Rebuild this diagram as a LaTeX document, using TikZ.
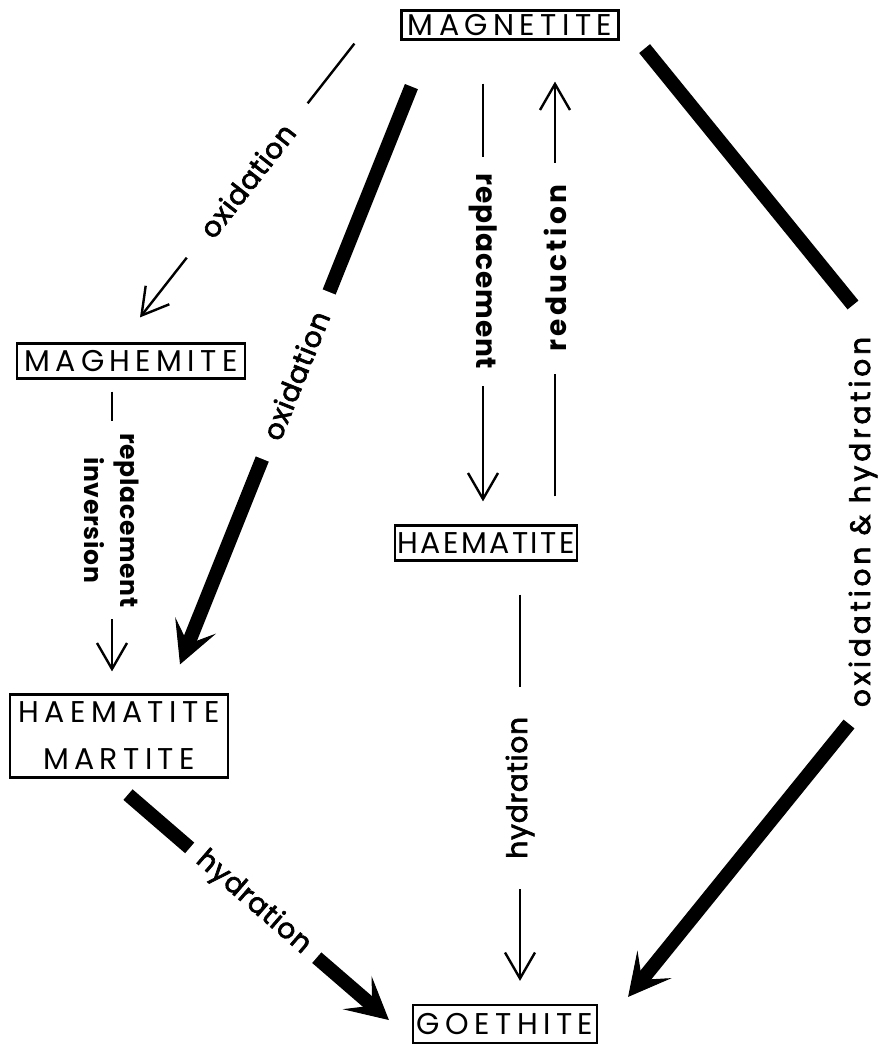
\documentclass[tikz,border=0pt]{standalone}
\usepackage{fontspec}
\setmainfont{Poppins}
\newfontfamily\boxfont[LetterSpace=18]{Poppins}
\newfontfamily\boxnarrow[LetterSpace=8]{Poppins}
\newfontfamily\lblfont[FakeBold=2.5,LetterSpace=3]{Poppins}
\newfontfamily\lblwide[FakeBold=2.5,LetterSpace=14]{Poppins}
\newfontfamily\lblbold[LetterSpace=3]{Poppins}
\newfontfamily\lblboldwide[LetterSpace=12]{Poppins}
\usetikzlibrary{arrows.meta}

\begin{document}
\begin{tikzpicture}[
    x=1pt, y=-1pt,
    box/.style={draw, line width=2.2pt, inner sep=0pt, align=center,
        font=\boxfont\fontsize{30}{47}\selectfont},
    lbl/.style={fill=white, inner xsep=22pt, inner ysep=1pt,
        font=\lblfont\fontsize{28}{34}\selectfont},
    lblb/.style={lbl, font=\lblbold\bfseries\fontsize{28}{34}\selectfont},
    thinarrow/.style={line width=2.4pt, -{Straight Barb[length=26pt,width=30pt]}},
    thickbar/.style={line width=14pt},
    thickarrow/.style={line width=14pt,
        -{Stealth[length=42pt,width=44pt,inset=20pt,line width=1pt]}}
]
    \useasboundingbox (0,0) rectangle (878,1046);

    % minerals
    \node[box, minimum width=217pt, minimum height=29pt] (magnetite) at (510,25) {MAGNETITE};
    \node[box, minimum width=228pt, minimum height=35pt] (maghemite) at (131,361) {MAGHEMITE};
    \node[box, minimum width=182pt, minimum height=35pt,
          font=\boxnarrow\fontsize{30}{47}\selectfont] (haematite) at (486,543) {HAEMATITE};
    \node[box, minimum width=218pt, minimum height=83pt] (martite) at (119,736) {HAEMATITE\\MARTITE};
    \node[box, minimum width=184pt, minimum height=38pt] (goethite) at (505,1024) {GOETHITE};

    % thin arrows
    \draw[thinarrow] ([xshift=-46pt,yshift=-3pt]magnetite.south west)
        -- node[lbl, sloped, inner xsep=30pt] {oxidation} ([xshift=9pt,yshift=25pt]maghemite.north);
    \draw[thinarrow] ([xshift=-27pt,yshift=-43pt]magnetite.south)
        -- node[lblb, pos=0.45, rotate=-90, inner xsep=17pt] {replacement} ([xshift=-3pt,yshift=23pt]haematite.north);
    \draw[thinarrow] ([xshift=69pt,yshift=28pt]haematite.north)
        -- node[lblb, pos=0.55, rotate=90, font=\lblboldwide\bfseries\fontsize{28}{34}\selectfont] {reduction}
        ([xshift=45pt,yshift=-41pt]magnetite.south);
    \draw[thinarrow] ([xshift=-19pt,yshift=-12pt]maghemite.south)
        -- node[lblb, pos=0.46, rotate=-90, inner xsep=12pt, align=center,
                font=\lblbold\bfseries\fontsize{25}{36}\selectfont] {replacement\\inversion}
        ([xshift=-7pt,yshift=22pt]martite.north);
    \draw[thinarrow] ([xshift=34pt,yshift=-33pt]haematite.south)
        -- node[lbl, rotate=90, inner xsep=30pt] {hydration} ([xshift=15pt,yshift=23pt]goethite.north);

    % thick arrows
    \draw[thickarrow] ([xshift=11pt,yshift=-46pt]magnetite.south west)
        -- node[lbl, sloped] {oxidation} ([xshift=61pt,yshift=29pt]martite.north);
    \draw[thickarrow] ([xshift=9pt,yshift=-16pt]martite.south)
        -- node[lbl, sloped, pos=0.48, inner xsep=13pt] {hydration} ([xshift=-23pt,yshift=4pt]goethite.west);

    \coordinate (bendtop) at (853,305);
    \coordinate (bendbot) at (849,724);
    \node[lbl, fill=none, rotate=90, font=\lblwide\fontsize{28}{34}\selectfont]
        (ohlbl) at (863,522) {oxidation \& hydration};
    \draw[thickbar] ([xshift=25pt,yshift=-8pt]magnetite.south east) -- (bendtop);
    \draw[thickarrow] (bendbot) -- ([xshift=30pt,yshift=7pt]goethite.north east);
\end{tikzpicture}
\end{document}
